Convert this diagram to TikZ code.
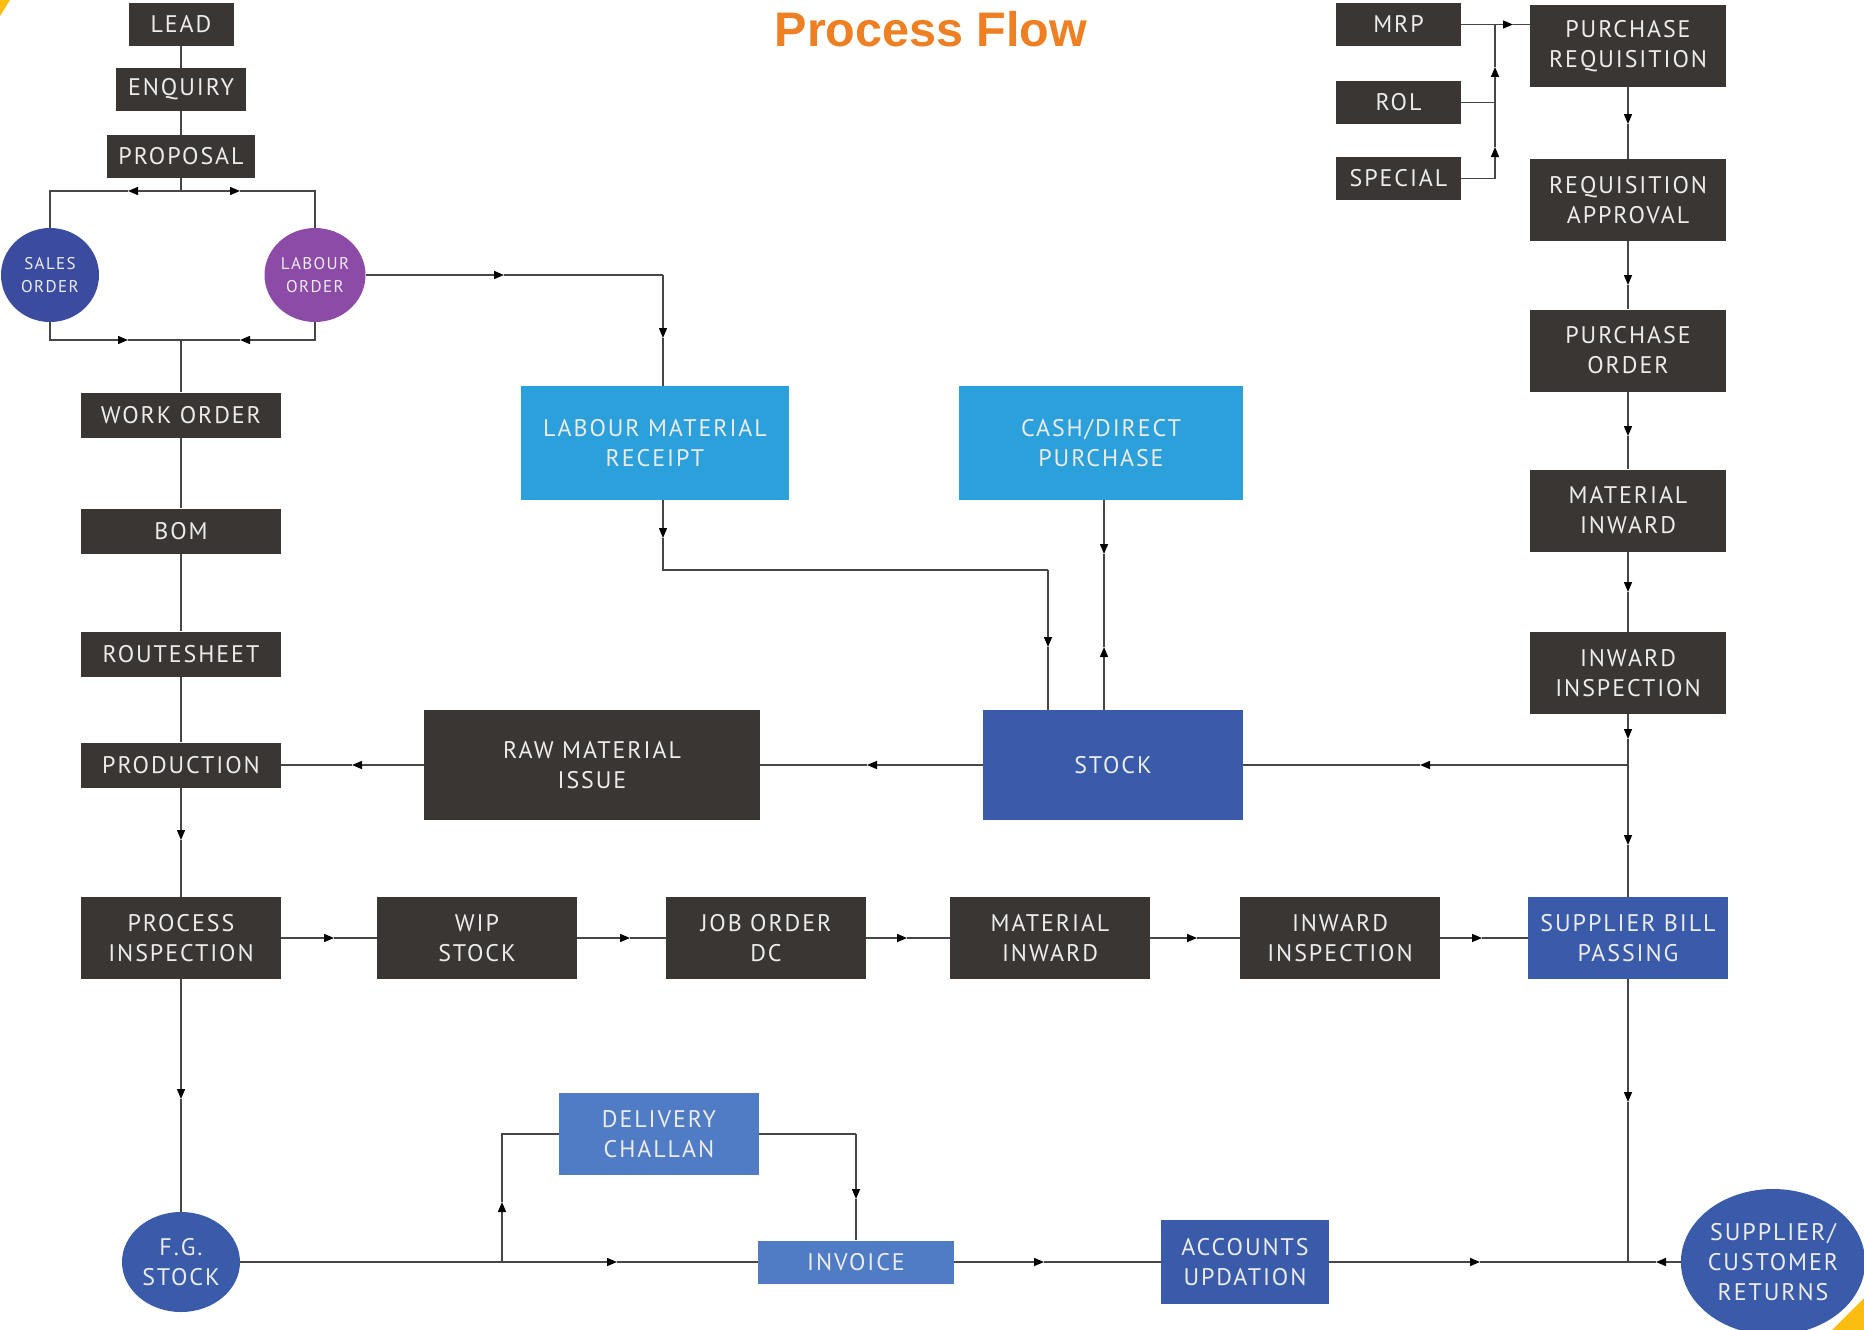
\documentclass[tikz,border=0pt]{standalone}
\usepackage{fontspec}
\setmainfont{PT Sans}
\newfontfamily\boxfont{PT Sans}[LetterSpace=8]
\newfontfamily\titlefont{Liberation Sans}
\usetikzlibrary{arrows.meta,shapes.geometric}
\definecolor{darkbox}{RGB}{58,54,52}
\definecolor{boxtext}{RGB}{236,236,236}
\definecolor{salesc}{RGB}{59,76,160}
\definecolor{labourc}{RGB}{139,75,167}
\definecolor{lightb}{RGB}{44,160,218}
\definecolor{midb}{RGB}{58,91,170}
\definecolor{softb}{RGB}{79,124,196}
\definecolor{linec}{RGB}{70,70,70}
\definecolor{titlec}{RGB}{238,127,34}
\definecolor{cornerc}{RGB}{252,189,17}
\tikzset{
  box/.style={rectangle, fill=darkbox, text=boxtext, inner sep=0pt, align=center,
    font=\boxfont\fontsize{24}{30}\selectfont},
  oval/.style={ellipse, inner sep=0pt, text=boxtext, align=center,
    font=\boxfont\fontsize{24}{30}\selectfont},
  smalloval/.style={oval, font=\boxfont\fontsize{17}{23}\selectfont},
  wire/.style={draw=linec, line width=1.4pt},
  tip/.style={wire, -{Triangle[length=10pt,width=8pt,color=black]}},
}
\begin{document}
\begin{tikzpicture}[x=1pt,y=-1pt]
\fill[white] (0,0) rectangle (1864,1330);
\useasboundingbox (0,0) rectangle (1864,1330);

% title
\node (title) at (931,29) {\titlefont\bfseries\fontsize{48.5}{54}\selectfont\color{titlec}Process Flow};

% left column
\node[box, minimum width=105, minimum height=43] (lead) at (181,24.5) {LEAD};
\node[box, minimum width=130, minimum height=43] (enq) at (181,89.5) {ENQUIRY};
\node[box, minimum width=148, minimum height=43] (prop) at (181,156.5) {PROPOSAL};
\node[smalloval, fill=salesc, minimum width=98, minimum height=94] (sales) at (50,275) {SALES\\ORDER};
\node[smalloval, fill=labourc, minimum width=101, minimum height=94] (labour) at (315,275) {LABOUR\\ORDER};
\node[box, minimum width=200, minimum height=45] (work) at (181,415) {WORK ORDER};
\node[box, minimum width=200, minimum height=45] (bom) at (181,531) {BOM};
\node[box, minimum width=200, minimum height=45] (route) at (181,654) {ROUTESHEET};
\node[box, minimum width=200, minimum height=45] (prod) at (181,765) {PRODUCTION};
\node[box, minimum width=200, minimum height=82] (pi) at (181,938) {PROCESS\\INSPECTION};
\node[oval, fill=midb, minimum width=118, minimum height=100] (fg) at (181,1262) {F.G.\\STOCK};

% middle
\node[box, fill=lightb, minimum width=268, minimum height=114] (lmr) at (655,443) {LABOUR MATERIAL\\RECEIPT};
\node[box, fill=lightb, minimum width=284, minimum height=114] (cash) at (1101,443) {CASH/DIRECT\\PURCHASE};
\node[box, minimum width=336, minimum height=110] (rmi) at (592,765) {RAW MATERIAL\\ISSUE};
\node[box, fill=midb, minimum width=260, minimum height=110] (stock) at (1113,765) {STOCK};

% middle row
\node[box, minimum width=200, minimum height=82] (wip) at (477,938) {WIP\\STOCK};
\node[box, minimum width=200, minimum height=82] (job) at (766,938) {JOB ORDER\\DC};
\node[box, minimum width=200, minimum height=82] (mi2) at (1050,938) {MATERIAL\\INWARD};
\node[box, minimum width=200, minimum height=82] (ii2) at (1340,938) {INWARD\\INSPECTION};
\node[box, fill=midb, minimum width=200, minimum height=82] (sbp) at (1628,938) {SUPPLIER BILL\\PASSING};

% right column
\node[box, minimum width=125, minimum height=43] (mrp) at (1398.5,24.5) {MRP};
\node[box, minimum width=125, minimum height=43] (rol) at (1398.5,102.5) {ROL};
\node[box, minimum width=125, minimum height=43] (special) at (1398.5,178.5) {SPECIAL};
\node[box, minimum width=196, minimum height=82] (pr) at (1628,46) {PURCHASE\\REQUISITION};
\node[box, minimum width=196, minimum height=82] (ra) at (1628,200) {REQUISITION\\APPROVAL};
\node[box, minimum width=196, minimum height=82] (po) at (1628,350.5) {PURCHASE\\ORDER};
\node[box, minimum width=196, minimum height=82] (mi) at (1628,510.5) {MATERIAL\\INWARD};
\node[box, minimum width=196, minimum height=82] (ii) at (1628,673) {INWARD\\INSPECTION};

% bottom
\node[box, fill=softb, minimum width=200, minimum height=82] (dc) at (659,1134) {DELIVERY\\CHALLAN};
\node[box, fill=softb, minimum width=196, minimum height=43] (inv) at (856,1262) {INVOICE};
\node[box, fill=midb, minimum width=168, minimum height=84] (acc) at (1245,1262) {ACCOUNTS\\UPDATION};
\node[oval, fill=midb, minimum width=172, minimum height=146] (ret) at (1773,1262) {SUPPLIER/\\CUSTOMER\\RETURNS};

% coordinates
\coordinate (bra) at (181,191);
\coordinate (brl) at (128,191);
\coordinate (brr) at (240,191);
\coordinate (mg) at (181,340);
\coordinate (mgl) at (128,340);
\coordinate (mgr) at (240,340);
\coordinate (a1) at (181,840);
\coordinate (a2) at (181,1099);
\coordinate (lo1) at (504,275);
\coordinate (lo2) at (663,275);
\coordinate (lo3) at (663,338);
\coordinate (lm1) at (663,538);
\coordinate (lm2) at (663,570);
\coordinate (lm3) at (1048,570);
\coordinate (lm4) at (1048,647);
\coordinate (c1) at (1104,554);
\coordinate (c2) at (1104,647);
\coordinate (sj) at (1628,765);
\coordinate (s1) at (1420,765);
\coordinate (s2) at (867,765);
\coordinate (s3) at (352,765);
\coordinate (mj) at (1495,24.5);
\coordinate (m1) at (1513,24.5);
\coordinate (rj) at (1495,102.5);
\coordinate (sp) at (1495,178.5);
\coordinate (u1) at (1495,67);
\coordinate (u2) at (1495,147);
\coordinate (r1) at (1628,124);
\coordinate (r2) at (1628,285);
\coordinate (r3) at (1628,436);
\coordinate (r4) at (1628,592);
\coordinate (r5) at (1628,739);
\coordinate (r6) at (1628,845);
\coordinate (h1) at (334,938);
\coordinate (h2) at (630,938);
\coordinate (h3) at (907,938);
\coordinate (h4) at (1197,938);
\coordinate (h5) at (1482,938);
\coordinate (dj) at (502,1262);
\coordinate (b1) at (617,1262);
\coordinate (d1) at (502,1202);
\coordinate (d2) at (856,1134);
\coordinate (d3) at (856,1199);
\coordinate (b2) at (1044,1262);
\coordinate (b3) at (1480,1262);
\coordinate (bj) at (1628,1262);
\coordinate (b4) at (1656,1262);
\coordinate (b5) at (1628,1102);

% left column connectors
\draw[wire] (lead) -- (enq);
\draw[wire] (enq) -- (prop);
\draw[wire] (prop) -- (bra);
\draw[tip] (bra) -- (brl);
\draw[wire] (brl) -| (sales);
\draw[tip] (bra) -- (brr);
\draw[wire] (brr) -| (labour);
\draw[tip] (sales) |- (mgl);
\draw[wire] (mgl) -- (mg);
\draw[tip] (labour) |- (mgr);
\draw[wire] (mgr) -- (mg);
\draw[wire] (mg) -- (work);
\draw[wire] (work) -- (bom);
\draw[wire] (bom) -- (route);
\draw[wire] (route) -- (prod);
\draw[tip] (prod) -- (a1);
\draw[wire] (a1) -- (pi);
\draw[tip] (pi) -- (a2);
\draw[wire] (a2) -- (fg);

% labour order to labour material receipt to stock
\draw[tip] (labour) -- (lo1);
\draw[wire] (lo1) -- (lo2);
\draw[tip] (lo2) -- (lo3);
\draw[wire] (lo3) -- (lo3 |- lmr.north);
\draw[tip] (lmr.south -| lm1) -- (lm1);
\draw[wire] (lm1) -- (lm2) -- (lm3);
\draw[tip] (lm3) -- (lm4);
\draw[wire] (lm4) -- (lm4 |- stock.north);

% cash/direct purchase and stock
\draw[tip] (cash.south -| c1) -- (c1);
\draw[wire] (c1) -- (c2);
\draw[tip] (stock.north -| c2) -- (c2);

% stock row
\draw[tip] (sj) -- (s1);
\draw[wire] (s1) -- (stock);
\draw[tip] (stock) -- (s2);
\draw[wire] (s2) -- (rmi);
\draw[tip] (rmi) -- (s3);
\draw[wire] (s3) -- (prod);

% MRP / ROL / SPECIAL
\draw[wire] (mrp) -- (mj);
\draw[tip] (mj) -- (m1);
\draw[wire] (m1) -- (m1 -| pr.west);
\draw[wire] (rol) -- (rj);
\draw[wire] (special) -- (sp);
\draw[tip] (sp) -- (u2);
\draw[wire] (u2) -- (rj);
\draw[tip] (rj) -- (u1);
\draw[wire] (u1) -- (mj);

% right column
\draw[tip] (pr) -- (r1);
\draw[wire] (r1) -- (ra);
\draw[tip] (ra) -- (r2);
\draw[wire] (r2) -- (po);
\draw[tip] (po) -- (r3);
\draw[wire] (r3) -- (mi);
\draw[tip] (mi) -- (r4);
\draw[wire] (r4) -- (ii);
\draw[tip] (ii) -- (r5);
\draw[wire] (r5) -- (sj);
\draw[tip] (sj) -- (r6);
\draw[wire] (r6) -- (sbp);

% middle row
\draw[tip] (pi) -- (h1);
\draw[wire] (h1) -- (wip);
\draw[tip] (wip) -- (h2);
\draw[wire] (h2) -- (job);
\draw[tip] (job) -- (h3);
\draw[wire] (h3) -- (mi2);
\draw[tip] (mi2) -- (h4);
\draw[wire] (h4) -- (ii2);
\draw[tip] (ii2) -- (h5);
\draw[wire] (h5) -- (sbp);

% bottom row
\draw[wire] (fg) -- (dj);
\draw[tip] (dj) -- (b1);
\draw[wire] (b1) -- (inv);
\draw[tip] (dj) -- (d1);
\draw[wire] (d1) |- (dc);
\draw[wire] (dc) -- (d2);
\draw[tip] (d2) -- (d3);
\draw[wire] (d3) -- (inv);
\draw[tip] (inv) -- (b2);
\draw[wire] (b2) -- (acc);
\draw[tip] (acc) -- (b3);
\draw[wire] (b3) -- (bj);
\draw[tip] (ret) -- (b4);
\draw[wire] (b4) -- (bj);
\draw[tip] (sbp) -- (b5);
\draw[wire] (b5) -- (bj);

% corners
\fill[cornerc] (0,0) -- (10,0) -- (0,16) -- cycle;
\fill[cornerc] (1832,1330) -- (1864,1330) -- (1864,1298) -- cycle;
\end{tikzpicture}
\end{document}
